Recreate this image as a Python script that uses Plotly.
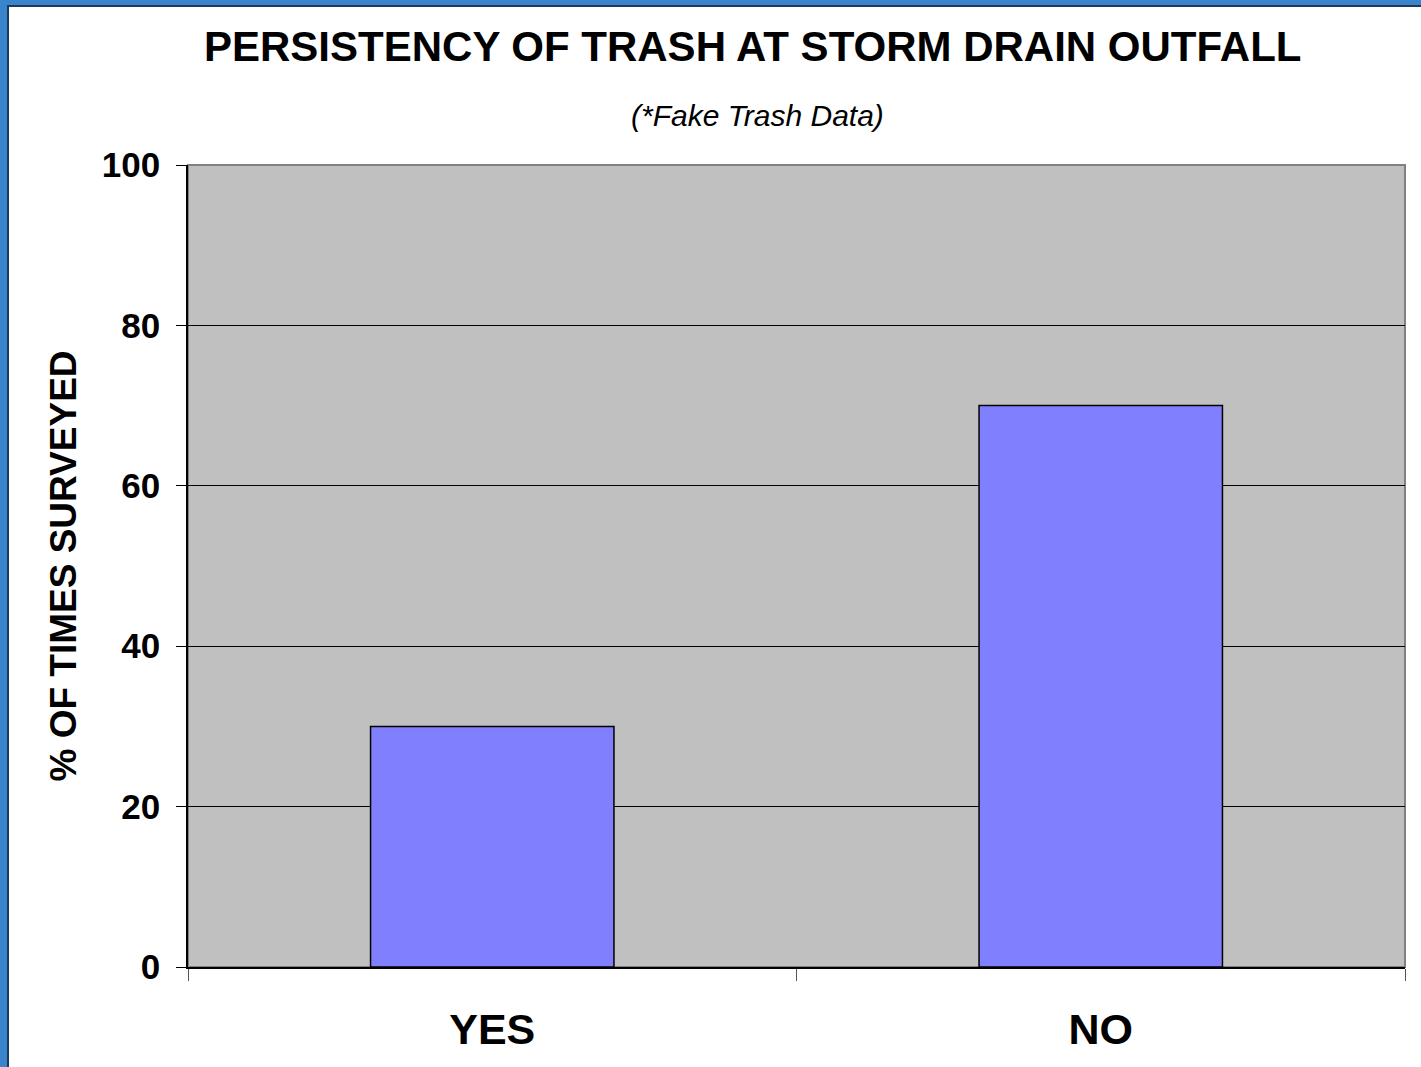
import plotly.graph_objects as go

# --- Data ---
categories = ["YES", "NO"]
percent_surveyed = [30, 70]
y_ticks = [0, 20, 40, 60, 80, 100]

FONT = "Liberation Sans, Arial, sans-serif"

fig = go.Figure()

fig.add_trace(go.Bar(
    x=categories,
    y=percent_surveyed,
    width=0.4,
    marker=dict(color="#8080FF", line=dict(color="black", width=1.5)),
))

# plot area occupies pixels x 188..1405, y 165..967
W, H = 1421, 1067
L, R, T, B = 188, 16, 165, 100
pw, ph = W - L - R, H - T - B


def px_x(p):
    return (p - L) / pw


def px_y(p):
    return (H - B - p) / ph


# white chart area on a blue frame
fig.add_shape(type="rect", xref="paper", yref="paper",
              x0=px_x(8), x1=px_x(W + 5), y0=px_y(H + 5), y1=px_y(6),
              fillcolor="white", line=dict(color="#1d3a5c", width=2), layer="below")
# gray plot area with gray border (top/right show)
fig.add_shape(type="rect", xref="paper", yref="paper", x0=0, x1=1, y0=0, y1=1,
              fillcolor="#C0C0C0", line=dict(color="#808080", width=2), layer="below")

fig.update_layout(
    width=W, height=H,
    margin=dict(l=L, r=R, t=T, b=B),
    paper_bgcolor="#3a84cc",
    plot_bgcolor="#C0C0C0",
    showlegend=False,
    annotations=[
        dict(text="<b>PERSISTENCY OF TRASH AT STORM DRAIN OUTFALL</b>",
             xref="paper", yref="paper", x=px_x(752), y=px_y(47),
             showarrow=False, xanchor="center", yanchor="middle",
             font=dict(family=FONT, size=42, color="black")),
        dict(text="<i>(*Fake Trash Data)</i>",
             xref="paper", yref="paper", x=px_x(757), y=px_y(116),
             showarrow=False, xanchor="center", yanchor="middle",
             font=dict(family=FONT, size=30, color="black")),
    ],
)

fig.update_xaxes(
    showline=True, linecolor="black", linewidth=1.5,
    ticks="outside", tickson="boundaries", ticklen=12, tickcolor="#555",
    tickfont=dict(family=FONT, size=43, color="black", weight="bold"),
    ticklabelstandoff=24,
    mirror=False, showgrid=False,
)
fig.update_yaxes(
    range=[0, 100], tickvals=y_ticks,
    showline=True, linecolor="black", linewidth=1.5,
    ticks="outside", ticklen=10, tickcolor="black",
    showgrid=True, gridcolor="black", gridwidth=1,
    tickfont=dict(family=FONT, size=35, color="black", weight="bold"),
    ticklabelstandoff=9,
    title=dict(text="<b>% OF TIMES SURVEYED</b>", standoff=14,
               font=dict(family=FONT, size=37, color="black")),
    zeroline=False,
)

fig.write_html("out.html", config={"displayModeBar": False},
               post_script="document.body.style.margin='0';")
